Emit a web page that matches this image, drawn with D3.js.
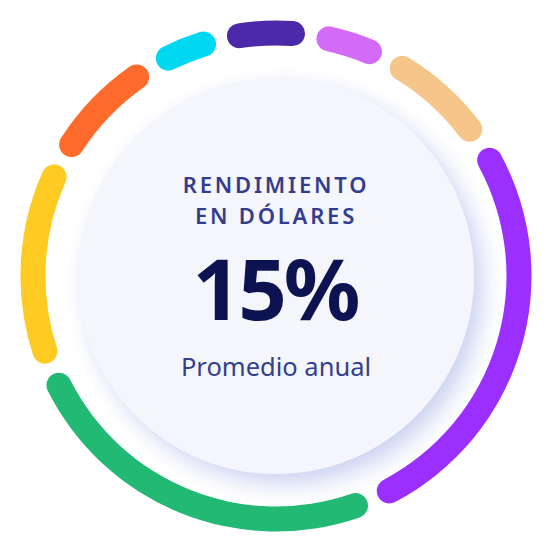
<!DOCTYPE html>
<html>
<head>
<meta charset="utf-8">
<script src="https://cdn.jsdelivr.net/npm/d3@7"></script>
<style>
  html, body { margin: 0; padding: 0; background: #ffffff; }
  svg { display: block; }
</style>
</head>
<body>
<div id="chart"></div>
<script>
// segment data, clockwise from the top
var categories = ["Seg A", "Seg B", "Seg C", "Seg D", "Seg E", "Seg F", "Seg G", "Seg H"];
var shares = [5.9, 5.2, 8.4, 27.6, 25.3, 14.1, 8.6, 4.9];
var colors = ["#4b29a9", "#d46bf6", "#f5c58a", "#9a2fff", "#21b973", "#ffca22", "#ff6b2d", "#00d8f2"];

var titleLines = ["RENDIMIENTO", "EN DÓLARES"];
var bigValue = "15%";
var subtitle = "Promedio anual";

var width = 552, height = 553;
var cx = 276, cy = 276;
var ringR = 243, ringW = 25;
var innerR = 198;
var startDeg = -13.0;
var gapDeg = 2.8; // visible gap between rounded ends

var rad = function (d) { return d * Math.PI / 180; };

var svg = d3.select("#chart").append("svg")
    .attr("width", width)
    .attr("height", height);

var defs = svg.append("defs");
var shadow = defs.append("filter")
    .attr("id", "soft")
    .attr("x", "-30%").attr("y", "-30%")
    .attr("width", "160%").attr("height", "160%");
shadow.append("feDropShadow")
    .attr("dx", 9).attr("dy", 10)
    .attr("stdDeviation", 11)
    .attr("flood-color", "#c3cbee")
    .attr("flood-opacity", 0.85);

var g = svg.append("g").attr("transform", "translate(" + cx + "," + cy + ")");

// centre disc
g.append("circle")
    .attr("r", innerR)
    .attr("fill", "#f5f6fc")
    .attr("filter", "url(#soft)");

var pie = d3.pie()
    .sort(null)
    .value(function (d) { return d.value; })
    .startAngle(rad(startDeg))
    .endAngle(rad(startDeg + 360));

var arc = d3.arc()
    .innerRadius(ringR - ringW / 2)
    .outerRadius(ringR + ringW / 2)
    .cornerRadius(ringW / 2);

var data = categories.map(function (c, i) {
    return { name: c, value: shares[i], color: colors[i] };
});

g.selectAll("path.seg")
    .data(pie(data))
  .enter().append("path")
    .attr("class", "seg")
    .attr("fill", function (d) { return d.data.color; })
    .attr("d", function (d) {
        return arc({
            startAngle: d.startAngle + rad(gapDeg / 2),
            endAngle: d.endAngle - rad(gapDeg / 2)
        });
    });

// labels
var font = "'Noto Sans', 'Open Sans', sans-serif";

var title = g.append("g")
    .attr("font-family", font)
    .attr("font-weight", 600)
    .attr("font-size", 22)
    .attr("fill", "#323d8d")
    .attr("letter-spacing", 2.8)
    .attr("text-anchor", "middle");

title.selectAll("text")
    .data(titleLines)
  .enter().append("text")
    .attr("x", 0)
    .attr("y", function (d, i) { return -83 + i * 31; })
    .text(function (d) { return d; });

g.append("text")
    .attr("font-family", font)
    .attr("font-weight", 700)
    .attr("font-size", 85)
    .attr("letter-spacing", -3)
    .attr("fill", "#0c1350")
    .attr("text-anchor", "middle")
    .attr("x", -1)
    .attr("y", 44)
    .text(bigValue);

g.append("text")
    .attr("font-family", font)
    .attr("font-weight", 400)
    .attr("font-size", 25.5)
    .attr("fill", "#333f8f")
    .attr("text-anchor", "middle")
    .attr("x", 0)
    .attr("y", 100)
    .text(subtitle);
</script>
</body>
</html>
